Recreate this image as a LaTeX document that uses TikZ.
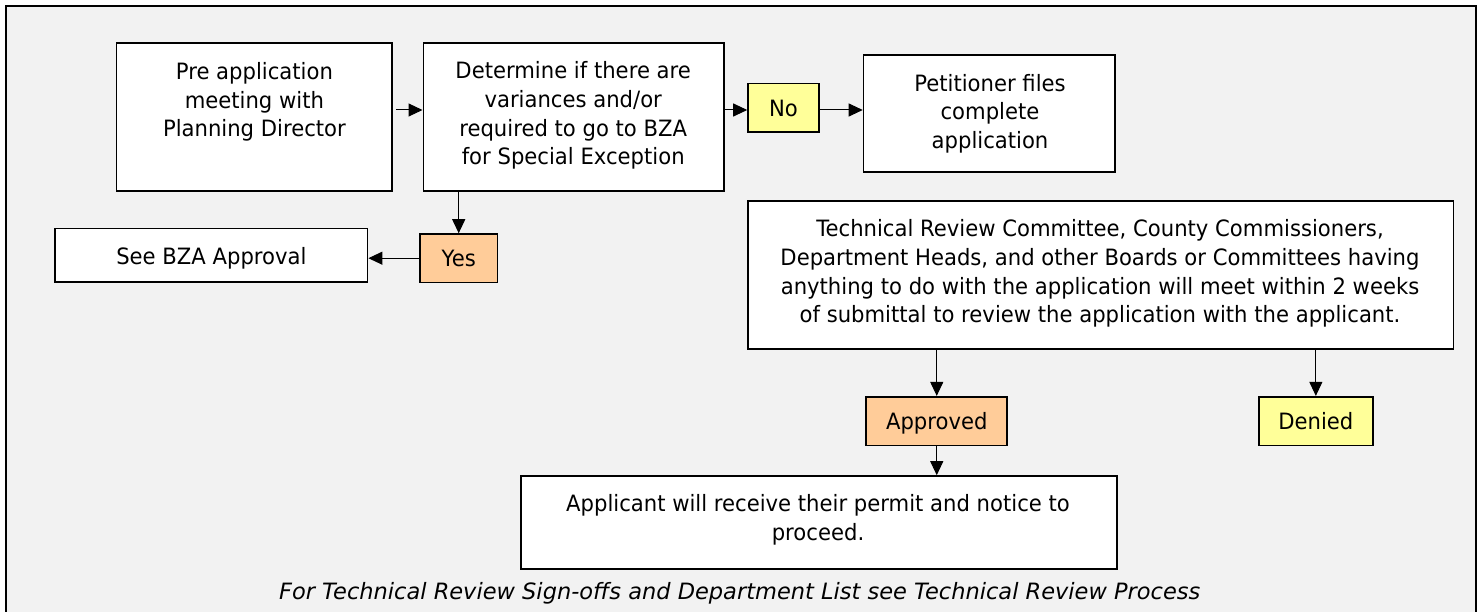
\documentclass[tikz,border=0pt]{standalone}
\usepackage{fontspec}
\setmainfont{DejaVu Sans}[FakeStretch=0.94]
\newfontfamily\capfont{DejaVu Sans}
\usetikzlibrary{arrows.meta,calc}
\definecolor{bg}{HTML}{F2F2F2}
\definecolor{orangefill}{HTML}{FFCC99}
\definecolor{yellowfill}{HTML}{FFFF99}
\begin{document}
\begin{tikzpicture}[x=1pt,y=-1pt,
  box/.style={draw=black,line width=1.6pt,fill=white,inner sep=0pt},
  obox/.style={box,fill=orangefill},
  ybox/.style={box,fill=yellowfill},
  txt/.style={align=center,inner sep=0pt,font=\fontsize{22.5}{28.7}\selectfont},
  one/.style={txt,text depth=0pt},
  arr/.style={draw=black,line width=1pt,-{Triangle[length=14pt,width=13pt]}}]
\useasboundingbox (0,0) rectangle (1481,612);
\begin{scope}
\clip (0,0) rectangle (1481,612);
\draw[line width=1.8pt,fill=bg] (5.7,5.7) rectangle (1476,640);
\end{scope}
\coordinate (ay) at (0,110);
% boxes
\node[box,minimum width=275.6pt,minimum height=148pt] (pre) at (254.4,117.3) {};
\node[box,minimum width=300.7pt,minimum height=148pt] (det) at (573.65,117.3) {};
\node[ybox,minimum width=71pt,minimum height=48.6pt,one] (no) at (783.5,108) {No};
\node[box,minimum width=251.5pt,minimum height=117pt] (pet) at (989.25,113.5) {};
\node[box,minimum width=312.4pt,minimum height=53.6pt,one] (bza) at (211.4,255.5) {See BZA Approval};
\node[obox,minimum width=77.4pt,minimum height=48.3pt,one] (yes) at (458.7,258.2) {Yes};
\node[box,minimum width=705.5pt,minimum height=148pt] (tech) at (1100.75,275) {};
\node[obox,minimum width=141pt,minimum height=48.6pt,one] (appr) at (936.75,421) {Approved};
\node[ybox,minimum width=114.3pt,minimum height=48.6pt,one] (den) at (1315.85,421) {Denied};
\node[box,minimum width=595.8pt,minimum height=92.7pt] (appl) at (818.9,522.35) {};
% texts
\node[txt] (tpre) at (254.4,101.8) {Pre application\\meeting with\\Planning Director};
\node[txt] (tdet) at (573.2,115.5) {Determine if there are\\variances and/or\\required to go to BZA\\for Special Exception};
\node[txt] (tpet) at (990,113.5) {Petitioner files\\complete\\application};
\node[txt] (ttech) at (1100,273.5) {Technical Review Committee, County Commissioners,\\Department Heads, and other Boards or Committees having\\anything to do with the application will meet within 2 weeks\\of submittal to review the application with the applicant.};
\node[txt] (tappl) at (818,519.9) {Applicant will receive their permit and notice to\\proceed.};
\node[txt,font=\capfont\fontsize{22.5}{28.7}\selectfont\itshape] (cap) at (739.7,593.2) {For Technical Review Sign-offs and Department List see Technical Review Process};
% connectors
\draw[arr,shorten <=3pt] (pre.east |- ay) -- (det.west |- ay);
\draw[arr] (det.east |- ay) -- (no.west |- ay);
\draw[arr] (no.east |- ay) -- (pet.west |- ay);
\draw[arr] (det.south -| yes) -- (yes.north);
\draw[arr] (yes.west) -- (bza.east |- yes);
\draw[arr] (tech.south -| appr) -- (appr.north);
\draw[arr] (tech.south -| den) -- (den.north);
\draw[arr] (appr.south) -- (appl.north -| appr);
\end{tikzpicture}
\end{document}
